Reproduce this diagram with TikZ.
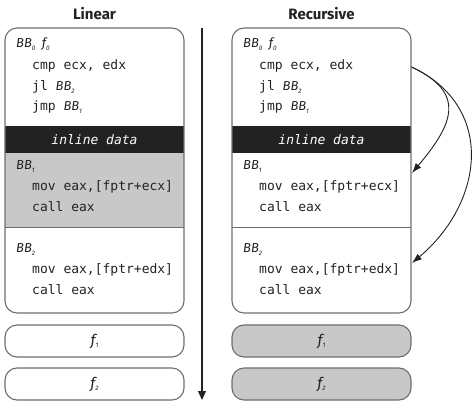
\documentclass[tikz,border=0pt]{standalone}
\usepackage{fontspec}
\setsansfont{Fira Sans}
\setmonofont{DejaVu Sans Mono}
\usetikzlibrary{arrows.meta,positioning}
\definecolor{dg}{HTML}{222222}
\definecolor{edgegrey}{HTML}{6E6E6E}
\definecolor{fillgrey}{HTML}{C8C8C8}
\newcommand{\lowidx}[1]{\raisebox{-2.5pt}{\fontsize{6.5}{6.5}\selectfont #1}}
\newcommand{\bbname}[1]{{\sffamily\itshape BB\lowidx{#1}}}
\newcommand{\fname}[1]{{\sffamily\itshape f\lowidx{#1}}}
\tikzset{
    block/.style =  {rectangle,
                    rounded corners=12pt,
                    draw=edgegrey,
                    line width=1.1pt,
                    minimum width=179pt,
                    inner sep=0pt},
    region/.style = {rectangle,
                    minimum width=179pt,
                    minimum height=74pt,
                    inner sep=0pt},
    inline/.style = {rectangle,
                    fill=dg,
                    text=white,
                    minimum width=179pt,
                    minimum height=27pt,
                    inner sep=0pt,
                    font=\ttfamily\itshape\fontsize{13}{13}\selectfont},
    fbox/.style =   {rectangle,
                    rounded corners=12pt,
                    draw=edgegrey,
                    line width=1.1pt,
                    minimum width=179pt,
                    minimum height=32pt,
                    inner sep=0pt,
                    text=dg,
                    font=\fontsize{15}{15}\selectfont},
    header/.style = {font=\sffamily\bfseries\fontsize{15}{15}\selectfont,
                    text=dg},
    bblabel/.style = {anchor=west,
                    inner sep=0pt,
                    text=dg,
                    text height=9pt,
                    text depth=3pt,
                    font=\sffamily\itshape\fontsize{13}{13}\selectfont},
    code/.style =   {anchor=west,
                    inner sep=0pt,
                    text=dg,
                    text height=9pt,
                    text depth=3pt,
                    font=\ttfamily\fontsize{13}{13}\selectfont},
    flow/.style =   {-{Triangle[length=9pt,width=8pt]},
                    line width=1.3pt,
                    draw=dg},
    jump/.style =   {-{Latex[length=10pt,width=7pt]},
                    line width=0.9pt,
                    draw=dg}
}

\begin{document}
\begin{tikzpicture}[x=1pt,y=-1pt]
    \useasboundingbox (0,0) rectangle (472,409);
    \node[header] (lin) at (94.5,14)  {Linear};
    \node[header] (rec) at (321.5,14) {Recursive};
    % both columns, the grey part swaps sides
    \foreach \c/\x/\bbfill/\ffill in {l/0/fillgrey/white, r/227/white/fillgrey}{
        \node[inline]                 (\c-data) at (94.5+\x,139.5) {inline data};
        \node[region, fill=\bbfill]   (\c-bb1)  at (94.5+\x,190)   {};
        \node[block, minimum height=285pt] (\c-box) at (94.5+\x,170.5) {};
        \draw[edgegrey, line width=1.1pt] (\c-bb1.south west) -- (\c-bb1.south east);
        \node[bblabel] (\c-bb0)    at (16+\x,45)  {BB\lowidx{0}\hspace{3pt} f\lowidx{0}};
        \node[code]    (\c-cmp)    at (32+\x,67)  {cmp ecx, edx};
        \node[code]    (\c-jl)     at (32+\x,88)  {jl \bbname{2}};
        \node[code]    (\c-jmp)    at (32+\x,108) {jmp \bbname{1}};
        \node[bblabel] (\c-bb1lbl) at (16+\x,167) {BB\lowidx{1}};
        \node[code]    (\c-mov1)   at (32+\x,188) {mov eax,[fptr+ecx]};
        \node[code]    (\c-call1)  at (32+\x,209) {call eax};
        \node[bblabel] (\c-bb2lbl) at (16+\x,250) {BB\lowidx{2}};
        \node[code]    (\c-mov2)   at (32+\x,271) {mov eax,[fptr+edx]};
        \node[code]    (\c-call2)  at (32+\x,292) {call eax};
        \node[fbox, fill=\ffill] (\c-f1) at (94.5+\x,341) {\fname{1}};
        \node[fbox, fill=\ffill] (\c-f2) at (94.5+\x,384) {\fname{2}};
    }
    \coordinate (flowtop) at (202,28);
    \coordinate (flowend) at (202,400);
    \draw[flow] (flowtop) -- (flowend);
    \coordinate (src)  at (r-box.east |- r-cmp);
    \coordinate (dst1) at (412,173);
    \coordinate (dst2) at (412,263);
    \draw[jump] (src) to[out=-25,in=50,looseness=1.5] (dst1);
    \draw[jump] (src) to[out=-25,in=40,looseness=1.22] (dst2);
\end{tikzpicture}
\end{document}
